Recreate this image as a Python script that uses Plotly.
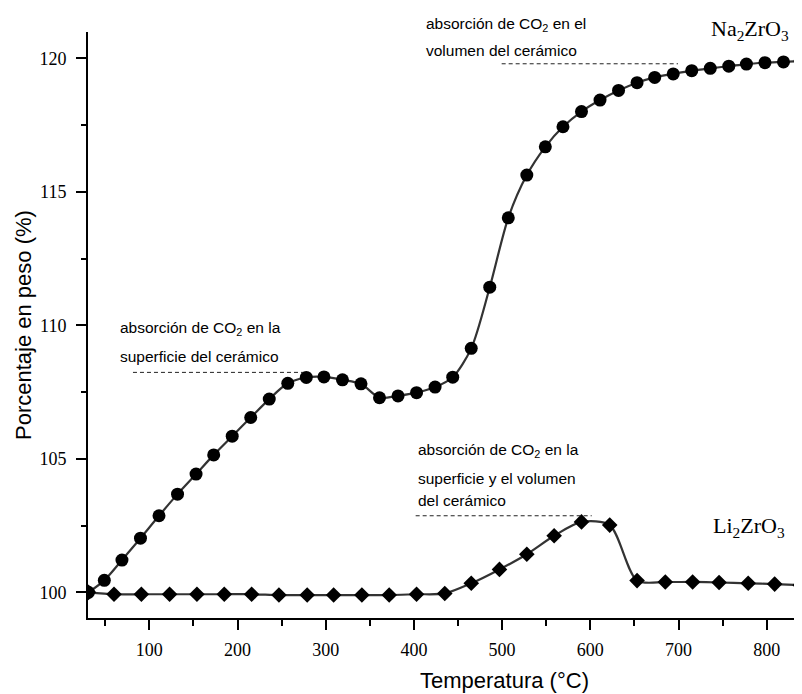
import plotly.graph_objects as go

# ---------------- data ----------------
na_temp = [31, 49, 69, 90, 111, 132, 153, 173, 194, 215, 236, 257, 278, 298, 319,
           340, 361, 382, 403, 424, 444, 465, 486, 507, 528, 549, 569, 590, 611, 632,
           653, 673, 694, 715, 736, 757, 777, 798, 819, 838]
na_weight = [100.0, 100.45, 101.21, 102.03, 102.87, 103.68, 104.43, 105.15, 105.85, 106.55,
             107.24, 107.83, 108.05, 108.07, 107.96, 107.81, 107.29, 107.36, 107.48, 107.69,
             108.06, 109.14, 111.43, 114.03, 115.63, 116.69, 117.44, 118.01, 118.44, 118.80,
             119.09, 119.29, 119.42, 119.54, 119.63, 119.71, 119.79, 119.84, 119.87, 119.90]

li_temp = [31, 60, 91, 123, 154, 185, 216, 247, 279, 309, 341, 372, 403, 435, 465,
           497, 528, 559, 590, 622, 653, 685, 716, 746, 779, 809, 838]
li_weight = [100.0, 99.93, 99.93, 99.93, 99.93, 99.93, 99.93, 99.90, 99.90, 99.90, 99.90,
             99.90, 99.93, 99.96, 100.34, 100.86, 101.43, 102.12, 102.64, 102.52, 100.44,
             100.39, 100.39, 100.37, 100.34, 100.31, 100.27]

x_ticks = [100, 200, 300, 400, 500, 600, 700, 800]
y_ticks = [100, 105, 110, 115, 120]

# guide (dashed) lines: [x0, x1, y]
guide_surface = [81.5, 274.3, 108.24]
guide_volume = [499.5, 699.4, 119.8]
guide_li = [402.0, 601.6, 102.87]

# ---------------- layout constants (page pixels) ----------------
PAGE_W, PAGE_H = 802, 694
OFF = 8                      # default body margin of the html page
PL, PT, PR, PB = 88, 32, 802, 618   # plot area in page pixels
PW, PH = PR - PL, PB - PT

def px2paper(px, py):
    return (px - PL) / PW, (PB - py) / PH

serif = "Liberation Serif, Times New Roman, serif"
sans = "Liberation Sans, Arial, sans-serif"
line_col = "#333333"

fig = go.Figure()
fig.add_trace(go.Scatter(
    x=na_temp, y=na_weight, mode="lines+markers",
    line=dict(color=line_col, width=2.2, shape="spline", smoothing=0.8),
    marker=dict(symbol="circle", size=13, color="black"),
    showlegend=False, hoverinfo="skip"))
fig.add_trace(go.Scatter(
    x=li_temp, y=li_weight, mode="lines+markers",
    line=dict(color=line_col, width=2.2, shape="spline", smoothing=0.8),
    marker=dict(symbol="diamond", size=12, color="black"),
    showlegend=False, hoverinfo="skip"))

for g in (guide_surface, guide_volume, guide_li):
    fig.add_shape(type="line", xref="x", yref="y", x0=g[0], x1=g[1], y0=g[2], y1=g[2],
                  line=dict(color="#222222", width=1, dash="4px,3px"))

texts = [
    ("absorción de CO<sub>2</sub> en la", 118.3, 328),
    ("superficie del cerámico", 118.3, 356),
    ("absorción de CO<sub>2</sub> en el", 424, 24),
    ("volumen del cerámico", 424, 50),
    ("absorción de CO<sub>2</sub> en la", 415.5, 450),
    ("superficie y el volumen", 415.5, 478),
    ("del cerámico", 415.5, 500),
]
annotations = []
for txt, px, py in texts:
    xp, yp = px2paper(px, py)
    annotations.append(dict(text=txt, x=xp, y=yp, xref="paper", yref="paper",
                            xanchor="left", yanchor="middle", showarrow=False,
                            font=dict(family=sans, size=15.5, color="black")))

for txt, px, py in [("Na<sub>2</sub>ZrO<sub>3</sub>", 709, 30),
                    ("Li<sub>2</sub>ZrO<sub>3</sub>", 711, 527)]:
    xp, yp = px2paper(px, py)
    annotations.append(dict(text=txt, x=xp, y=yp, xref="paper", yref="paper",
                            xanchor="left", yanchor="middle", showarrow=False,
                            font=dict(family=serif, size=22, color="black")))

# axis titles
xp, yp = px2paper(504, 680)
annotations.append(dict(text="Temperatura (°C)", x=xp, y=yp, xref="paper", yref="paper",
                        xanchor="center", yanchor="middle", showarrow=False,
                        font=dict(family=sans, size=22, color="black")))
xp, yp = px2paper(23, 325)
annotations.append(dict(text="Porcentaje en peso (%)", x=xp, y=yp, xref="paper", yref="paper",
                        xanchor="center", yanchor="middle", showarrow=False, textangle=-90,
                        font=dict(family=sans, size=22, color="black")))

fig.update_layout(
    width=PAGE_W - OFF, height=PAGE_H - OFF,
    margin=dict(l=PL - OFF, r=PAGE_W - PR, t=PT - OFF, b=PAGE_H - PB, autoexpand=False),
    paper_bgcolor="white", plot_bgcolor="white",
    annotations=annotations,
    xaxis=dict(range=[30.5, 840], tickvals=x_ticks, ticks="outside", ticklen=10, tickwidth=1.5,
               tickcolor="black", showline=True, linecolor="black", linewidth=2,
               showgrid=False, zeroline=False, ticklabelstandoff=4,
               tickfont=dict(family=serif, size=18, color="black"),
               minor=dict(dtick=50, tick0=0, ticks="outside", ticklen=6, tickwidth=1.5,
                          tickcolor="black", showgrid=False)),
    yaxis=dict(range=[99.04, 120.99], tickvals=y_ticks, ticks="outside", ticklen=10, tickwidth=1.5,
               tickcolor="black", showline=True, linecolor="black", linewidth=2,
               showgrid=False, zeroline=False, ticklabelstandoff=6,
               tickfont=dict(family=serif, size=18, color="black"),
               minor=dict(dtick=2.5, tick0=100, ticks="outside", ticklen=5, tickwidth=1.5,
                          tickcolor="black", showgrid=False)),
)

fig.write_html("out.html")
